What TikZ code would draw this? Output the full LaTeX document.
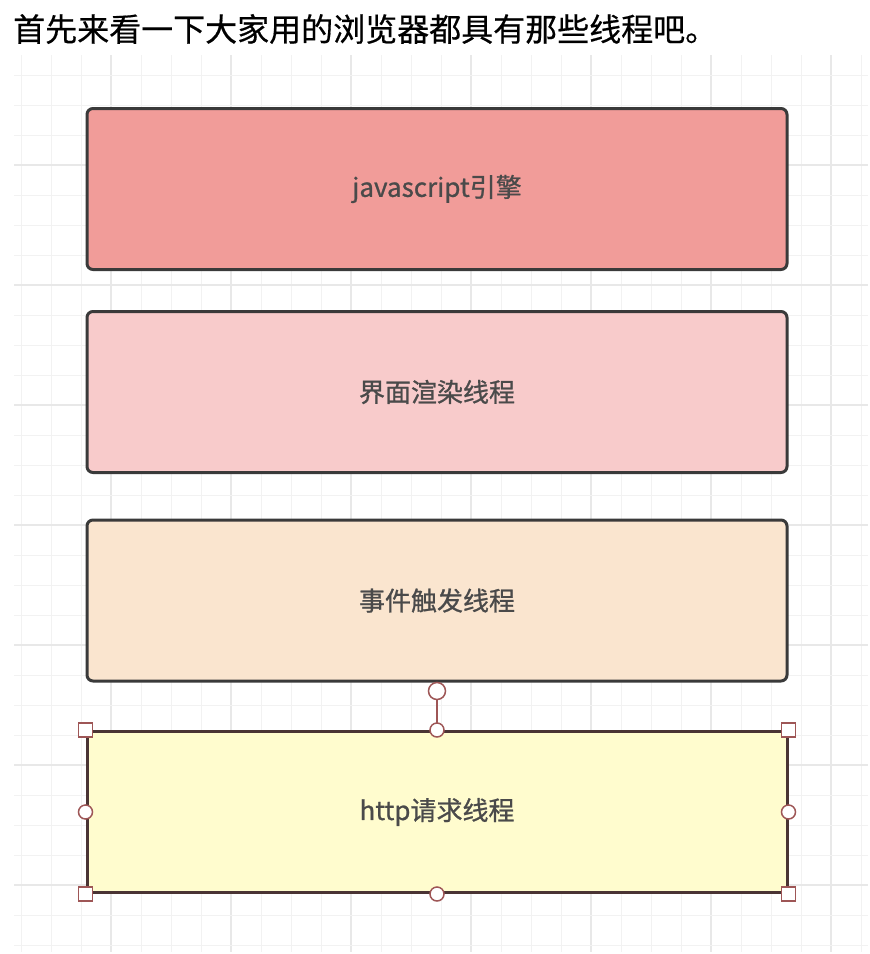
\documentclass[tikz,border=0pt]{standalone}
\usepackage{fontspec}
\newfontfamily\cjk{Noto Sans CJK SC}
\newfontfamily\cjkmid{Noto Sans CJK SC}[FakeBold=0.9]
\newfontfamily\cjktitle{Noto Sans CJK SC}[FakeBold=0.5]
\definecolor{gridminor}{HTML}{F2F2F2}
\definecolor{gridmajor}{HTML}{E8E8E8}
\definecolor{boxline}{HTML}{3A3A3A}
\definecolor{selline}{HTML}{4A3434}
\definecolor{handle}{HTML}{9E5656}
\definecolor{fillA}{HTML}{F19C99}
\definecolor{fillB}{HTML}{F8CBCB}
\definecolor{fillC}{HTML}{FAE5CF}
\definecolor{fillD}{HTML}{FFFCCE}
\definecolor{labeltext}{HTML}{4A4A4A}
\tikzset{
  threadbox/.style={draw=boxline, line width=3pt, rounded corners=6pt,
    minimum width=700pt, minimum height=161pt, inner sep=0pt,
    font=\cjkmid\fontsize{26}{26}\selectfont, text=labeltext},
  selbox/.style={threadbox, draw=selline, sharp corners},
  sqhandle/.style={draw=handle, fill=white, line width=1.5pt, minimum size=14pt, inner sep=0pt, rectangle},
  cirhandle/.style={draw=handle, fill=white, line width=1.5pt, minimum size=14pt, inner sep=0pt, circle},
  rothandle/.style={draw=handle, fill=white, line width=1.5pt, minimum size=17pt, inner sep=0pt, circle},
  rotline/.style={draw=handle, line width=1.8pt},
  titletext/.style={font=\cjktitle\fontsize{32}{32}\selectfont, text=black, inner sep=0pt, anchor=west}
}
\begin{document}
\begin{tikzpicture}[x=1pt,y=-1pt]
\useasboundingbox (0,0) rectangle (870,954);
\fill[white] (0,0) rectangle (870,954);
% grid
\begin{scope}
\clip (14,55) rectangle (868,952);
\foreach \i in {0,...,28}{
  \pgfmathtruncatemacro{\m}{mod(\i,4)==3 ? 1 : 0}
  \ifnum\m=1
    \draw[gridmajor, line width=1.2pt] ({21+30*\i},55) -- ({21+30*\i},952);
  \else
    \draw[gridminor, line width=1pt] ({21+30*\i},55) -- ({21+30*\i},952);
  \fi
}
\foreach \j in {0,...,29}{
  \pgfmathtruncatemacro{\m}{mod(\j,4)==3 ? 1 : 0}
  \ifnum\m=1
    \draw[gridmajor, line width=1.2pt] (14,{75+30*\j}) -- (868,{75+30*\j});
  \else
    \draw[gridminor, line width=1pt] (14,{75+30*\j}) -- (868,{75+30*\j});
  \fi
}
\end{scope}
% title
\node[titletext] (title) at (13,29) {首先来看一下大家用的浏览器都具有那些线程吧。};
% boxes
\node[threadbox, fill=fillA] (js) at (437,189) {javascript引擎};
\node[threadbox, fill=fillB] (render) at (437,392) {界面渲染线程};
\node[threadbox, fill=fillC] (event) at (437,600.5) {事件触发线程};
\node[selbox, fill=fillD] (http) at (437,812) {http请求线程};
% selection handles
\coordinate (rot) at (437,691);
\draw[rotline] (rot) -- (http.north);
\node[rothandle] (rh) at (rot) {};
\node[sqhandle] (hnw) at (http.north west) {};
\node[sqhandle] (hne) at (http.north east) {};
\node[sqhandle] (hsw) at (http.south west) {};
\node[sqhandle] (hse) at (http.south east) {};
\node[cirhandle] (hn) at (http.north) {};
\node[cirhandle] (hs) at (http.south) {};
\node[cirhandle] (hw) at (http.west) {};
\node[cirhandle] (he) at (http.east) {};
\end{tikzpicture}
\end{document}
